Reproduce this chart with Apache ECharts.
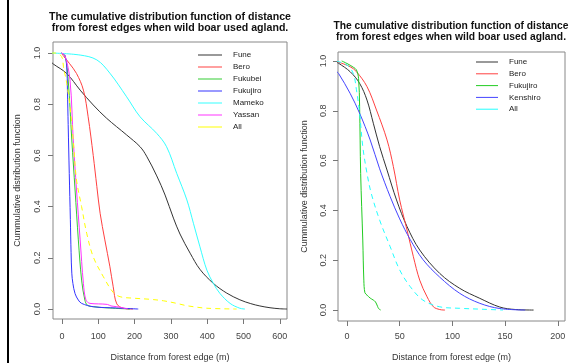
<!DOCTYPE html>
<html>
<head>
<meta charset="utf-8">
<title>CDF of distance from forest edges</title>
<script src="https://cdn.jsdelivr.net/npm/echarts@6/dist/echarts.min.js"></script>
<style>
    html, body {margin: 0; padding: 0; background: #fff;}
    #chartBox {width: 574px; height: 363px;}
</style>
</head>
<body>
<div id="chartBox"></div>
<script>
// tick labels
var xTicksLeft = [0, 100, 200, 300, 400, 500, 600];
var xTicksRight = [0, 50, 100, 150, 200];
var yTicks = [0, 0.2, 0.4, 0.6, 0.8, 1.0];

// left panel: [distance (m), cumulative]
var funeLeft = [[-30, 0.965], [-24, 0.957], [13, 0.92], [50, 0.855], [86, 0.797], [123, 0.745], [178, 0.68], [215, 0.634], [233, 0.597], [261, 0.52], [284, 0.445], [307, 0.355], [325, 0.293], [353, 0.218], [380, 0.155], [417, 0.1], [454, 0.062], [490, 0.036], [520, 0.021], [545, 0.012], [573, 0.005], [600, 0.001], [620, 0]];
var beroLeft = [[-2, 1.0], [6, 0.985], [20, 0.96], [40, 0.92], [59, 0.855], [72, 0.751], [86, 0.6], [96, 0.478], [105, 0.374], [118, 0.27], [132, 0.165], [141, 0.087], [151, 0.02], [169, 0.003], [196, 0]];
var fukubeiLeft = [[-2, 1.0], [8, 0.99], [17, 0.895], [27, 0.66], [36, 0.465], [45, 0.27], [54, 0.113], [63, 0.035], [70, 0.015], [86, 0.009], [130, 0.004], [187, 0]];
var fukujiroLeft = [[-2, 1.0], [8, 0.99], [13, 0.95], [15, 0.85], [17, 0.72], [20, 0.53], [23, 0.35], [25, 0.22], [27, 0.14], [30, 0.1], [36, 0.06], [45, 0.035], [54, 0.022], [86, 0.009], [150, 0.004], [210, 0]];
var mamekoLeft = [[-30, 1.0], [50, 0.992], [96, 0.973], [132, 0.921], [178, 0.829], [215, 0.751], [261, 0.686], [288, 0.634], [316, 0.53], [344, 0.426], [362, 0.335], [380, 0.243], [399, 0.152], [417, 0.1], [435, 0.061], [463, 0.022], [490, 0.003], [504, 0]];
var yassanLeft = [[-2, 1.0], [8, 0.99], [22, 0.895], [31, 0.66], [40, 0.465], [50, 0.27], [59, 0.1], [66, 0.035], [77, 0.022], [100, 0.02], [125, 0.018], [135, 0.012], [151, 0.009], [182, 0]];
var allLeft = [[-30, 1.0], [-19, 1.0], [-1, 0.986], [4, 0.946], [13, 0.882], [22, 0.79], [31, 0.66], [40, 0.504], [54, 0.4], [68, 0.296], [86, 0.204], [114, 0.126], [141, 0.065], [160, 0.048], [200, 0.042], [242, 0.038], [280, 0.032], [316, 0.022], [340, 0.014], [362, 0.009], [399, 0.003], [481, 0]];

// right panel
var funeRight = [[-10, 0.995], [-8, 0.991], [3, 0.957], [12, 0.91], [19, 0.843], [25, 0.75], [31, 0.656], [38, 0.562], [47, 0.442], [57, 0.335], [69, 0.241], [88, 0.147], [107, 0.087], [126, 0.047], [145, 0.012], [160, 0.002], [177, 0]];
var beroRight = [[-10, 0.998], [3, 0.977], [9, 0.957], [19, 0.897], [28, 0.803], [38, 0.683], [44, 0.576], [50, 0.442], [57, 0.321], [63, 0.214], [69, 0.12], [76, 0.053], [82, 0.013], [88, 0.002], [93, 0]];
var fukujiroRight = [[-5, 1.0], [0, 0.99], [6, 0.975], [9, 0.964], [11, 0.93], [12, 0.816], [13, 0.549], [15, 0.281], [16, 0.12], [17, 0.07], [19, 0.06], [22, 0.048], [25, 0.04], [27, 0.033], [29, 0.015], [30, 0.006], [32, 0]];
var kenshiroRight = [[-10, 0.958], [-8, 0.95], [3, 0.87], [12, 0.79], [22, 0.683], [31, 0.567], [41, 0.455], [50, 0.366], [60, 0.283], [72, 0.203], [88, 0.132], [107, 0.067], [126, 0.027], [145, 0.006], [169, 0]];
var allRight = [[-10, 0.999], [0, 0.984], [6, 0.95], [9, 0.884], [12, 0.79], [15, 0.656], [19, 0.549], [23, 0.469], [31, 0.361], [41, 0.254], [50, 0.161], [60, 0.094], [72, 0.04], [88, 0.013], [107, 0.007], [130, 0.003], [148, 0]];

var FONT = '"Liberation Sans", Arial, sans-serif';
var TITLE = 'The cumulative distribution function of distance\nfrom forest edges when wild boar used agland.';

window.addEventListener('load', function () {
    cdfChart();
});

/**
 * line series helper
 */
function cdfLine(name, idx, data, color, dashed) {
    return {
        name: name,
        type: 'line',
        xAxisIndex: idx,
        yAxisIndex: idx,
        data: data,
        symbol: 'none',
        smooth: 0.35,
        lineStyle: {color: color, width: 1, type: dashed ? [5, 4] : 'solid'},
        itemStyle: {color: color}
    };
}

function xAxisOf(idx, min, max, ticks, gap, margin) {
    return {
        type: 'value',
        gridIndex: idx,
        min: min,
        max: max,
        name: 'Distance from forest edge (m)',
        nameLocation: 'middle',
        nameGap: gap,
        nameMoveOverlap: false,
        nameTextStyle: {fontFamily: FONT, fontSize: 9, color: '#333'},
        axisLine: {show: false, onZero: false},
        splitLine: {show: false},
        axisTick: {show: true, length: 5, customValues: ticks, lineStyle: {color: '#777'}},
        axisLabel: {customValues: ticks, margin: margin, fontFamily: FONT, fontSize: 9, color: '#444'}
    };
}

function yAxisOf(idx, min, max, gap, margin) {
    return {
        type: 'value',
        gridIndex: idx,
        min: min,
        max: max,
        name: 'Cummulative distribution function',
        nameLocation: 'middle',
        nameGap: gap,
        nameMoveOverlap: false,
        nameTextStyle: {fontFamily: FONT, fontSize: 9, color: '#333'},
        axisLine: {show: false, onZero: false},
        splitLine: {show: false},
        axisTick: {show: true, length: 5, customValues: yTicks, lineStyle: {color: '#777'}},
        axisLabel: {
            customValues: yTicks, rotate: 90, margin: margin,
            fontFamily: FONT, fontSize: 9, color: '#444',
            formatter: function (v) { return v.toFixed(1); }
        }
    };
}

function legendOf(left, top, width, gap, names) {
    return {
        orient: 'vertical',
        left: left,
        top: top,
        padding: 0,
        icon: 'rect',
        itemWidth: width,
        itemHeight: 1,
        itemGap: gap,
        data: names,
        formatter: function (n) { return n.replace(/ R$/, ''); },
        textStyle: {fontFamily: FONT, fontSize: 8, color: '#222', padding: [0, 0, 0, 6]}
    };
}

function cdfChart() {
    var myChart = echarts.init(document.getElementById('chartBox'));
    var option = {
        animation: false,
        backgroundColor: '#fff',
        title: [
            {text: TITLE, left: 170, top: 12, textAlign: 'center', padding: 0,
                textStyle: {fontFamily: FONT, fontSize: 10.6, fontWeight: 'bold', color: '#111', lineHeight: 10.5}},
            {text: TITLE, left: 451, top: 21, textAlign: 'center', padding: 0,
                textStyle: {fontFamily: FONT, fontSize: 10.3, fontWeight: 'bold', color: '#111', lineHeight: 10.5}}
        ],
        grid: [
            {left: 53, top: 42, width: 234, height: 277, outerBoundsMode: 'none', containLabel: false,
                show: true, borderColor: '#888', borderWidth: 1},
            {left: 338, top: 52, width: 227, height: 269, outerBoundsMode: 'none', containLabel: false,
                show: true, borderColor: '#888', borderWidth: 1}
        ],
        xAxis: [
            xAxisOf(0, -24.8, 619.8, xTicksLeft, 34, 13),
            xAxisOf(1, -8.5, 206.8, xTicksRight, 32, 11)
        ],
        yAxis: [
            yAxisOf(0, -0.039, 1.043, 31, 11),
            yAxisOf(1, -0.044, 1.036, 29, 10)
        ],
        legend: [
            legendOf(198, 51, 24, 4, ['Fune', 'Bero', 'Fukubei', 'Fukujiro', 'Mameko', 'Yassan', 'All']),
            legendOf(476, 58, 22, 3.8, ['Fune R', 'Bero R', 'Fukujiro R', 'Kenshiro R', 'All R'])
        ],
        graphic: [
            {type: 'rect', left: 7, top: 0, shape: {width: 2, height: 363}, style: {fill: '#000'}}
        ],
        series: [
            cdfLine('Fune', 0, funeLeft, '#333333'),
            cdfLine('Bero', 0, beroLeft, '#ff4040'),
            cdfLine('Fukubei', 0, fukubeiLeft, '#33cc33'),
            cdfLine('Fukujiro', 0, fukujiroLeft, '#3333ff'),
            cdfLine('Mameko', 0, mamekoLeft, '#33ffff'),
            cdfLine('Yassan', 0, yassanLeft, '#ff33ff'),
            cdfLine('All', 0, allLeft, '#ffff00', true),
            cdfLine('Fune R', 1, funeRight, '#333333'),
            cdfLine('Bero R', 1, beroRight, '#ff4040'),
            cdfLine('Fukujiro R', 1, fukujiroRight, '#22cc22'),
            cdfLine('Kenshiro R', 1, kenshiroRight, '#4444ff'),
            cdfLine('All R', 1, allRight, '#22ffff', true)
        ]
    };
    myChart.setOption(option);
}
</script>
</body>
</html>
